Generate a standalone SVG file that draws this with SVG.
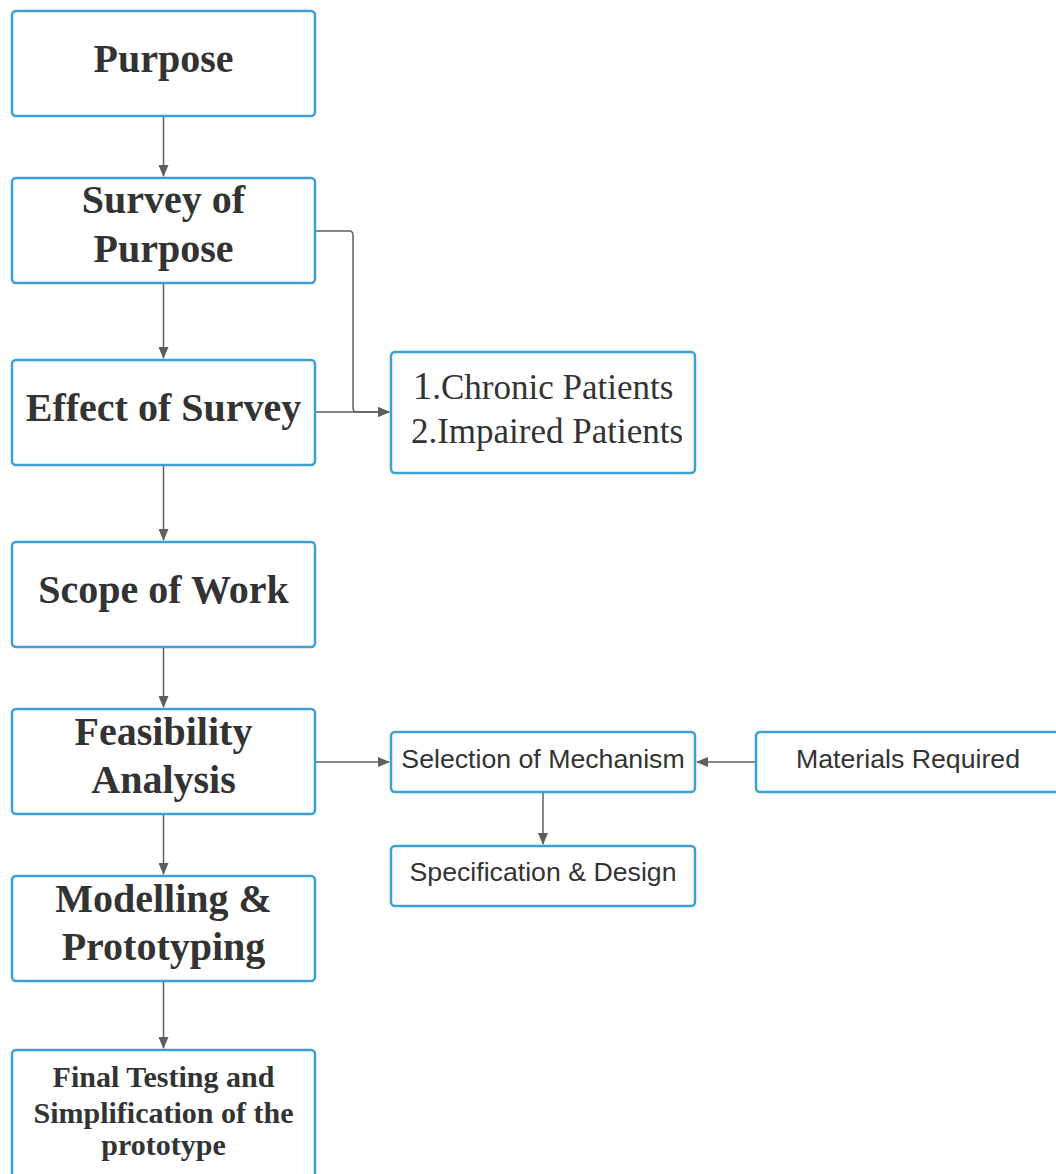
<svg xmlns="http://www.w3.org/2000/svg" width="1056" height="1174" viewBox="0 0 1056 1174">
<style>
.box{fill:#ffffff;stroke:#3d9fd8;stroke-width:2.5}
.bold{font-family:"Liberation Serif",serif;font-weight:bold;fill:#333333;text-anchor:middle}
.serif{font-family:"Liberation Serif",serif;fill:#333333;text-anchor:middle}
.sans{font-family:"Liberation Sans",sans-serif;fill:#333333;text-anchor:middle;font-size:26.7px}
.conn{fill:none;stroke:#5e5e5e;stroke-width:1.5}
</style>
<defs>
<marker id="arr" markerWidth="12" markerHeight="10" refX="11" refY="5" orient="auto" markerUnits="userSpaceOnUse">
<path d="M0,0 L12,5 L0,10 Z" fill="#5e5e5e"/>
</marker>
</defs>
<rect width="1056" height="1174" fill="#ffffff"/>
<g id="connectors">
<path class="conn" d="M163.5,117 V176" marker-end="url(#arr)"/>
<path class="conn" d="M163.5,284 V358" marker-end="url(#arr)"/>
<path class="conn" d="M163.5,466 V540" marker-end="url(#arr)"/>
<path class="conn" d="M163.5,648 V707" marker-end="url(#arr)"/>
<path class="conn" d="M163.5,815 V874" marker-end="url(#arr)"/>
<path class="conn" d="M163.5,982 V1048" marker-end="url(#arr)"/>
<path class="conn" d="M316,231 H349 Q353,231 353,235 V408 Q353,412 357,412 H389" marker-end="url(#arr)"/>
<path class="conn" d="M316,412 H389" marker-end="url(#arr)"/>
<path class="conn" d="M316,762 H389" marker-end="url(#arr)"/>
<path class="conn" d="M755,762 H697" marker-end="url(#arr)"/>
<path class="conn" d="M543,793 V844" marker-end="url(#arr)"/>
</g>
<g id="purpose">
<rect class="box" x="12" y="11" width="303" height="105" rx="4"/>
<text class="bold" x="163.5" y="72" font-size="40">Purpose</text>
</g>
<g id="survey">
<rect class="box" x="12" y="178" width="303" height="105" rx="4"/>
<text class="bold" x="163.5" y="213" font-size="40">Survey of</text>
<text class="bold" x="163.5" y="262" font-size="40">Purpose</text>
</g>
<g id="effect">
<rect class="box" x="12" y="360" width="303" height="105" rx="4"/>
<text class="bold" x="163.5" y="421" font-size="40">Effect of Survey</text>
</g>
<g id="scope">
<rect class="box" x="12" y="542" width="303" height="105" rx="4"/>
<text class="bold" x="163.5" y="603" font-size="40">Scope of Work</text>
</g>
<g id="feasibility">
<rect class="box" x="12" y="709" width="303" height="105" rx="4"/>
<text class="bold" x="163.5" y="745" font-size="40">Feasibility</text>
<text class="bold" x="163.5" y="793" font-size="40">Analysis</text>
</g>
<g id="modelling">
<rect class="box" x="12" y="876" width="303" height="105" rx="4"/>
<text class="bold" x="163.5" y="912" font-size="40">Modelling &amp;</text>
<text class="bold" x="163.5" y="960" font-size="40">Prototyping</text>
</g>
<g id="final">
<rect class="box" x="12" y="1050" width="303" height="140" rx="4"/>
<text class="bold" x="163.5" y="1087" font-size="30">Final Testing and</text>
<text class="bold" x="163.5" y="1123" font-size="30">Simplification of the</text>
<text class="bold" x="163.5" y="1155" font-size="30">prototype</text>
</g>
<g id="patients">
<rect class="box" x="391" y="352" width="304" height="121" rx="4"/>
<text class="serif" x="543" y="399" font-size="35"><tspan font-size="39">1</tspan>.Chronic Patients</text>
<text class="serif" x="547" y="443" font-size="35">2.Impaired Patients</text>
</g>
<g id="selection">
<rect class="box" x="391" y="732" width="304" height="60" rx="4"/>
<text class="sans" x="543" y="768">Selection of Mechanism</text>
</g>
<g id="specification">
<rect class="box" x="391" y="846" width="304" height="60" rx="4"/>
<text class="sans" x="543" y="881">Specification &amp; Design</text>
</g>
<g id="materials">
<rect class="box" x="756" y="732" width="304" height="60" rx="4"/>
<text class="sans" x="908" y="768">Materials Required</text>
</g>
</svg>
